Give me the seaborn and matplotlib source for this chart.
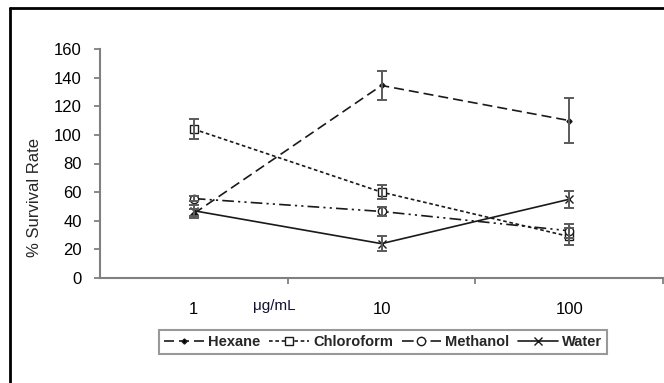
import pandas as pd
import seaborn as sns
import matplotlib.pyplot as plt
from matplotlib.lines import Line2D
from matplotlib.ticker import FixedLocator

# Dose levels (categorical axis) and survival rate for each extract
doses = ["1", "10", "100"]
extracts = ["Hexane", "Chloroform", "Methanol", "Water"]

hexane = [45, 134.5, 110]
hexane_err = [3, 10, 16]
chloroform = [104, 60, 29]
chloroform_err = [7, 5, 6]
methanol = [55.5, 46.5, 33]
methanol_err = [1.5, 3, 5]
water = [47, 24, 55]
water_err = [4, 5, 6]

values = {"Hexane": hexane, "Chloroform": chloroform, "Methanol": methanol, "Water": water}
errors = {"Hexane": hexane_err, "Chloroform": chloroform_err, "Methanol": methanol_err, "Water": water_err}

# Line / marker look of every series
styles = {
    "Hexane": dict(linestyle=(0, (6, 3)), marker="D", markersize=2.6, markerfacecolor="black"),
    "Chloroform": dict(linestyle=(0, (2.2, 1.6)), marker="s", markersize=6, markerfacecolor="white"),
    "Methanol": dict(linestyle=(0, (7, 2.5, 1.3, 2.5, 1.3, 2.5)), marker="o", markersize=6,
                     markerfacecolor="white"),
    "Water": dict(linestyle="-", marker="x", markersize=6, markerfacecolor="black"),
}

sns.set_style("white")
plt.rcParams["font.family"] = ["Liberation Sans", "DejaVu Sans"]

fig = plt.figure(figsize=(6.64, 3.83), dpi=100)
ax = fig.add_axes([100 / 664, 1 - 278 / 383, 563 / 664, 229 / 383])

# Long table for seaborn
rows = []
for name in extracts:
    for d, v in zip(doses, values[name]):
        rows.append({"dose": d, "rate": v, "extract": name})
df = pd.DataFrame(rows)

line_color = "#1a1a1a"
for name in extracts:
    sub = df[df["extract"] == name]
    sns.lineplot(data=sub, x="dose", y="rate", ax=ax, color=line_color, linewidth=1.2,
                 markeredgecolor=line_color, markeredgewidth=1.0, errorbar=None,
                 label=name, **styles[name])
    ax.errorbar(doses, values[name], yerr=errors[name], fmt="none", ecolor="#5a5a5a",
                elinewidth=1.4, capsize=3.5, capthick=1.4, zorder=3)

ax.set_xlim(-0.5, 2.5)
ax.set_ylim(0, 160)
ax.set_yticks(range(0, 161, 20))

# Category labels without tick marks, small tick marks between categories
ax.xaxis.set_minor_locator(FixedLocator([0.5, 1.5, 2.5]))
ax.tick_params(axis="x", which="major", length=0, pad=17, labelsize=12, colors="black")
ax.tick_params(axis="x", which="minor", length=4, width=1.3, color="#808080", direction="out", bottom=True)
ax.tick_params(axis="y", length=4, width=1.3, color="#808080", direction="out", left=True,
               pad=9, labelsize=12, labelcolor="black")

sns.despine(ax=ax)
for side in ["left", "bottom"]:
    ax.spines[side].set_color("#808080")
    ax.spines[side].set_linewidth(1.5)

ax.set_xlabel("")
ax.set_ylabel("% Survival Rate", fontsize=12)
ax.yaxis.set_label_coords(-0.103, 0.35)

fig.text(274 / 664, 1 - 306 / 383, "\u03bcg/mL", fontsize=11, ha="center", va="center", color="#111133")

leg = ax.legend(loc="center", bbox_to_anchor=(0.503, -0.279), ncol=4, frameon=True, fancybox=False,
                edgecolor="#808080", handlelength=2.7, handletextpad=0.3, columnspacing=0.6,
                borderpad=0.35, prop={"weight": "bold", "size": 10.5})
leg.get_frame().set_linewidth(1.5)

# Outer black frame (top and left edges of the original picture)
fig.add_artist(Line2D([10 / 664, 1], [1 - 8 / 383, 1 - 8 / 383], color="black", linewidth=2))
fig.add_artist(Line2D([10 / 664, 10 / 664], [0, 1 - 8 / 383], color="black", linewidth=2))

plt.savefig("out.png", dpi=100)
